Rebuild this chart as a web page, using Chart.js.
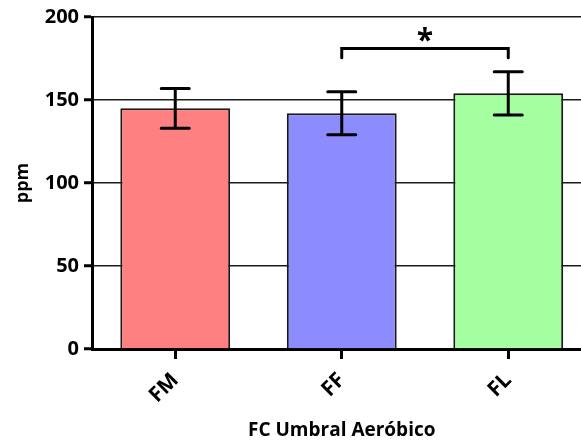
<!DOCTYPE html>
<html>
<head>
<meta charset="utf-8">
<script src="https://cdn.jsdelivr.net/npm/chart.js@4/dist/chart.umd.min.js"></script>
<style>
  html, body { margin: 0; padding: 0; background: #fff; overflow: hidden; }
  #wrap { width: 581px; height: 443px; overflow: hidden; }
  canvas { display: block; }
</style>
</head>
<body>
<div id="wrap"><canvas id="c" width="600" height="443"></canvas></div>
<script>
// Groups and their mean values with error (±) in ppm
const categories = ['FM', 'FF', 'FL'];
const means = [145, 142, 154];
const errors = [12, 13, 13];
const barColors = ['#FF8080', '#8C8CFF', '#A3FFA0'];

// Y axis ticks
const yTicks = [0, 50, 100, 150, 200];

// Significance comparisons: pair of group indices, bracket level, end drop, label
const sigPairs = [[1, 2]];
const sigLevels = [181];
const sigDrops = [175.5];
const sigLabels = ['*'];

const FONT = '"Open Sans", Lato, sans-serif';

const errorBarPlugin = {
  id: 'errorBars',
  afterDatasetsDraw(chart) {
    const ctx = chart.ctx;
    const y = chart.scales.y;
    const meta = chart.getDatasetMeta(0);
    ctx.save();
    ctx.strokeStyle = '#000';
    ctx.lineWidth = 3;
    ctx.lineCap = 'round';
    meta.data.forEach((bar, i) => {
      const x = bar.x;
      const top = y.getPixelForValue(means[i] + errors[i]);
      const bot = y.getPixelForValue(means[i] - errors[i]);
      const half = 14;
      ctx.beginPath();
      ctx.moveTo(x, top); ctx.lineTo(x, bot);
      ctx.moveTo(x - half, top); ctx.lineTo(x + half, top);
      ctx.moveTo(x - half, bot); ctx.lineTo(x + half, bot);
      ctx.stroke();
    });
    // significance brackets
    sigPairs.forEach((pair, k) => {
      const x1 = meta.data[pair[0]].x;
      const x2 = meta.data[pair[1]].x;
      const yl = y.getPixelForValue(sigLevels[k]);
      const yd = y.getPixelForValue(sigDrops[k]);
      ctx.lineJoin = 'miter';
      ctx.beginPath();
      ctx.moveTo(x1, yd); ctx.lineTo(x1, yl); ctx.lineTo(x2, yl); ctx.lineTo(x2, yd);
      ctx.stroke();
      ctx.fillStyle = '#000';
      ctx.font = 'bold 30px ' + FONT;
      ctx.textAlign = 'center';
      ctx.textBaseline = 'alphabetic';
      ctx.fillText(sigLabels[k], (x1 + x2) / 2, yl + 1);
    });
    ctx.restore();
  }
};

new Chart(document.getElementById('c'), {
  type: 'bar',
  data: {
    labels: categories,
    datasets: [{
      data: means,
      backgroundColor: barColors,
      borderColor: '#1a1a1a',
      borderWidth: 2,
      barPercentage: 0.66,
      categoryPercentage: 1.0
    }]
  },
  options: {
    responsive: false,
    animation: false,
    events: [],
    layout: { padding: { top: 16, right: 8.5, left: 0, bottom: 0 } },
    plugins: { legend: { display: false }, tooltip: { enabled: false } },
    scales: {
      x: {
        z: 1,
        offset: true,
        grid: {
          offset: false,
          drawOnChartArea: false,
          drawTicks: true,
          tickLength: 10,
          tickWidth: 3,
          tickColor: '#000'
        },
        border: { display: true, color: '#000', width: 3 },
        ticks: {
          color: '#000',
          font: { family: FONT, size: 21, weight: 'bold' },
          minRotation: 45,
          maxRotation: 45,
          padding: 9
        },
        title: {
          display: true,
          text: 'FC Umbral Aeróbico',
          color: '#000',
          font: { family: FONT, size: 19, weight: 'bold' },
          padding: { top: 0, bottom: 1 }
        },
        afterFit(scale) { scale.height = 94; }
      },
      y: {
        min: 0,
        max: 200,
        afterBuildTicks(scale) { scale.ticks = yTicks.map(v => ({ value: v })); },
        grid: {
          color: '#1a1a1a',
          lineWidth: 1.5,
          drawTicks: true,
          tickLength: 8,
          tickWidth: 3,
          tickColor: '#000'
        },
        border: { display: true, color: '#000', width: 3 },
        ticks: {
          color: '#000',
          font: { family: FONT, size: 20, weight: 'bold' },
          padding: 5
        },
        title: {
          display: true,
          text: 'ppm',
          color: '#000',
          font: { family: FONT, size: 18, weight: 'bold' },
          padding: { top: 12, bottom: 0 }
        },
        afterFit(scale) { scale.width = 92; }
      }
    }
  },
  plugins: [errorBarPlugin]
});
</script>
</body>
</html>
